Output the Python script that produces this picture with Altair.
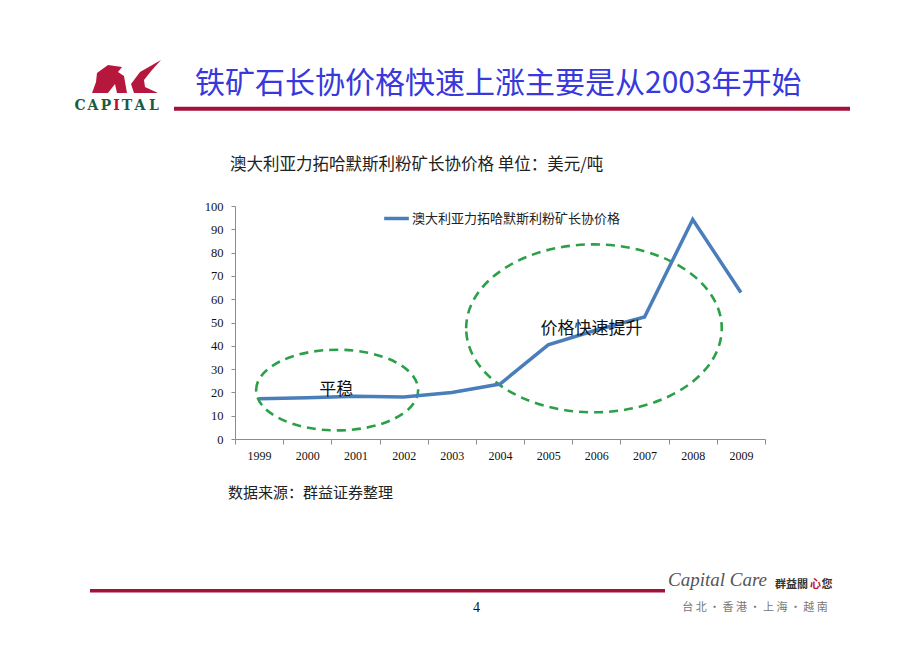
import altair as alt
import pandas as pd

# ---------------- data ----------------
years = [1999, 2000, 2001, 2002, 2003, 2004, 2005, 2006, 2007, 2008, 2009]
prices = [17.3, 17.7, 18.3, 18.0, 20.0, 23.6, 40.4, 46.8, 52.4, 94.2, 62.9]
series_name = "澳大利亚力拓哈默斯利粉矿长协价格"

ellipse_x = [2000.62, 2005.95]
ellipse_y = [21.0, 47.5]
note_text = ["平稳", "价格快速提升"]
note_x = [2000.6, 2005.9]
note_y = [21.1, 47.1]

y_ticks = list(range(0, 101, 10))
x_tick_edges = [1998.5 + i for i in range(12)]

title_text = "铁矿石长协价格快速上涨主要是从2003年开始"
subtitle_text = "澳大利亚力拓哈默斯利粉矿长协价格 单位：美元/吨"
source_text = "数据来源：群益证券整理"
page_number = "4"
logo_letters = ["C", "A", "P", "I", "T", "A", "L"]
footer_brand = "Capital Care"
footer_slogan = ["群益關", "心", "您"]
footer_cities = "台 北 ・ 香 港 ・ 上 海 ・ 越 南"

# ---------------- style ----------------
CJK = "Noto Sans CJK SC"
SERIF = "Liberation Serif"
LINE_BLUE = "#4A7EBB"
GREEN = "#2CA048"
DARK_RED = "#A3123A"
AXIS_GREY = "#8C8C8C"
OX, OY = 235, 206   # plot origin on page

df = pd.DataFrame({"year": years, "price": prices, "series": [series_name] * len(years)})
ell_df = pd.DataFrame({"x": ellipse_x, "y": ellipse_y})
note_df = pd.DataFrame({"x": note_x, "y": note_y, "t": note_text})

xscale = alt.Scale(domain=[1998.5, 2009.5], nice=False, zero=False)
yscale = alt.Scale(domain=[0, 100], nice=False)

x_axis = alt.Axis(values=x_tick_edges,
                  labelExpr="datum.value < 2009 ? format(datum.value + 0.5, 'd') : ''",
                  labelOffset=24.1, labelFlush=False, labelOverlap=False, grid=False,
                  tickSize=5, tickColor=AXIS_GREY, domainColor=AXIS_GREY,
                  labelFont=SERIF, labelFontSize=12, labelColor="#111",
                  labelPadding=6, title=None)
y_axis = alt.Axis(values=y_ticks, grid=False, tickSize=4, tickColor=AXIS_GREY,
                  domainColor=AXIS_GREY, labelFont=SERIF, labelFontSize=12.5,
                  labelColor="#111", labelPadding=8, labelOverlap=False,
                  labelFlush=False, title=None)

X = alt.X("year:Q", scale=xscale, axis=x_axis)
Y = alt.Y("price:Q", scale=yscale, axis=y_axis)

line = alt.Chart(df).mark_line(strokeWidth=3.5).encode(
    x=X, y=Y,
    color=alt.Color("series:N", scale=alt.Scale(range=[LINE_BLUE]),
                    legend=alt.Legend(orient="none", legendX=147, legendY=-2, title=None,
                                      symbolType="stroke", symbolSize=610,
                                      symbolStrokeWidth=3.5, labelFont=CJK,
                                      labelFontSize=13, labelColor="#222",
                                      labelOffset=1, padding=0, labelLimit=0)),
)


def ell_path(r):
    return f"M -1 0 A 1 {r} 0 1 1 1 0 A 1 {r} 0 1 1 -1 0 Z"


ell_specs = [(0.498, 162), (0.657, 255.6)]
ellipses = []
for i, (r, w) in enumerate(ell_specs):
    ellipses.append(
        alt.Chart(ell_df.iloc[[i]]).mark_point(
            shape=ell_path(r), size=w * w, filled=False, stroke=GREEN,
            strokeWidth=2.6, strokeDash=[9, 6], opacity=1
        ).encode(x=alt.X("x:Q", scale=xscale, axis=x_axis),
                 y=alt.Y("y:Q", scale=yscale, axis=y_axis))
    )

notes = alt.Chart(note_df).mark_text(font=CJK, fontSize=17, color="#111").encode(
    x=alt.X("x:Q", scale=xscale, axis=x_axis),
    y=alt.Y("y:Q", scale=yscale, axis=y_axis), text="t:N")


def deco_text(txt, px, py, **kw):
    return alt.Chart(pd.DataFrame({"t": [txt]})).mark_text(**kw).encode(
        text="t:N", x=alt.value(px - OX), y=alt.value(py - OY))


def deco_rule(x1, x2, py, color, w):
    return alt.Chart(pd.DataFrame({"a": [0]})).mark_rule(color=color, strokeWidth=w).encode(
        x=alt.value(x1 - OX), x2=alt.value(x2 - OX), y=alt.value(py - OY))


decor = [
    deco_text(title_text, 195, 84, font=CJK, fontSize=30, color="#3838DC",
              align="left", baseline="middle"),
    deco_rule(174, 850, 108.7, DARK_RED, 4),
    deco_text(subtitle_text, 230, 165, font=CJK, fontSize=16.5, color="#222",
              align="left", baseline="middle"),
    deco_text(source_text, 228, 493, font=CJK, fontSize=15, color="#222",
              align="left", baseline="middle"),
    deco_rule(90, 665, 590.7, DARK_RED, 3.5),
    deco_text(page_number, 476.5, 608, font=SERIF, fontSize=14, color="#111",
              align="center", baseline="middle"),
    deco_text(footer_brand, 668, 586, font=SERIF, fontSize=19, fontStyle="italic",
              color="#555", align="left", baseline="alphabetic"),
    deco_text(footer_cities, 755, 608, font=CJK, fontSize=11, color="#777",
              align="center", baseline="middle"),
]

# slogan pieces
slogan_x = [775, 810, 821.5]
slogan_col = ["#333", "#C0102A", "#333"]
for s, sx, sc in zip(footer_slogan, slogan_x, slogan_col):
    decor.append(deco_text(s, sx, 585, font="Noto Sans CJK TC", fontSize=11,
                           fontWeight="bold", color=sc, align="left", baseline="middle"))

# logo letters
letter_x = [80, 93, 106, 116.5, 127, 140, 154]
for ch, lx in zip(logo_letters, letter_x):
    decor.append(deco_text(ch, lx, 106, font="DejaVu Serif", fontSize=14, fontWeight="bold",
                           color="#C0102A" if ch == "I" else "#1D5B45",
                           align="center", baseline="middle"))

bird_path = ("M -0.806 -0.111 L -0.5 -0.333 L -0.111 -0.278 L -0.222 -0.139 L -0.056 -0.028 "
             "L 0.028 0.444 L -0.25 0.444 L -0.306 0.194 L -0.5 0.444 L -0.944 0.444 "
             "L -0.833 0.139 Z "
             "M 0.972 -0.472 L 0.389 -0.139 L 0.139 0.194 L 0.222 0.444 L 0.889 0.444 "
             "L 0.528 0.278 L 0.5 0.083 L 0.722 -0.194 Z")
bird = alt.Chart(pd.DataFrame({"a": [0]})).mark_point(
    shape=bird_path, size=72 * 72, filled=True, fill="#B5173D", opacity=1, strokeWidth=0
).encode(x=alt.value(126 - OX), y=alt.value(77 - OY))
decor.append(bird)

chart = alt.layer(*ellipses, line, notes, *decor).properties(
    width=530, height=233,
    autosize=alt.AutoSizeParams(type="none"),
    padding={"left": OX, "top": OY, "right": 920 - OX - 530, "bottom": 651 - OY - 233},
    background="white",
).configure_view(stroke=None)

chart.save("out.html", embed_options={"renderer": "svg", "actions": False})
